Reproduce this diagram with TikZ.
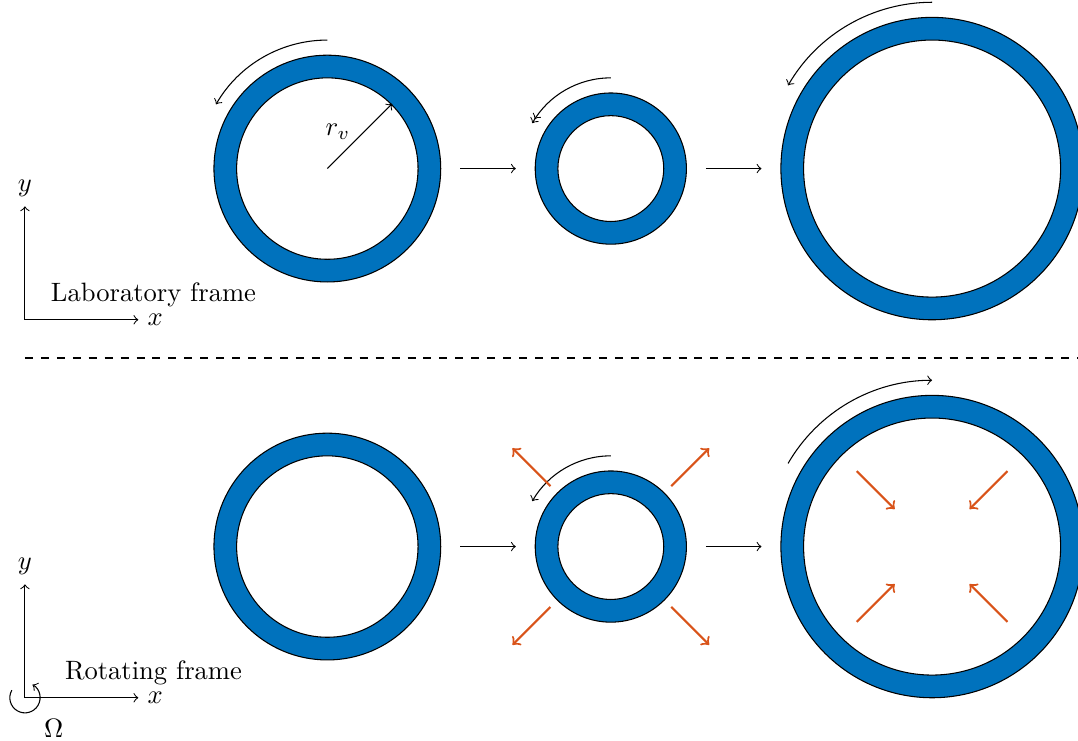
\documentclass[tikz,border=0pt]{standalone}
\usepackage{amsmath}
\usepackage{tikz}
\usetikzlibrary{positioning, arrows}
\definecolor{ringblue}{HTML}{0072BD}
\definecolor{flowred}{HTML}{D95319}
\tikzstyle{ring} = [circle, draw, fill=ringblue, inner sep=0pt]
\tikzstyle{hole} = [circle, draw, fill=white, inner sep=0pt]
\tikzstyle{arrow} = [->]
\tikzstyle{flow} = [->, thick, draw=flowred]

\begin{document}
\begin{tikzpicture}
    \useasboundingbox (-0.33,-5.56) rectangle (13.93,4.23);
    % laboratory frame
    \coordinate (labO) at (0,0);
    \coordinate (labX) at (1.5,0);
    \coordinate (labY) at (0,1.5);
    \draw [arrow] (labO) -- (labX) node[right] {$x$};
    \draw [arrow] (labO) -- (labY) node[above] {$y$};
    \node (labtext) at (1.7,0.33) {Laboratory frame};

    \node (lab1) [ring, minimum size=3cm] at (4,2) {};
    \node (lab1in) [hole, minimum size=2.4cm] at (lab1) {};
    \node (lab2) [ring, minimum size=2cm] at (7.75,2) {};
    \node (lab2in) [hole, minimum size=1.4cm] at (lab2) {};
    \node (lab3) [ring, minimum size=4cm] at (12,2) {};
    \node (lab3in) [hole, minimum size=3.4cm] at (lab3) {};

    \draw [arrow] (lab1.center) -- (lab1in.45) node[midway, left, yshift=0.06cm] {$r_v$};
    \draw [arrow] ([xshift=0.25cm]lab1.east) -- ([xshift=-0.25cm]lab2.west);
    \draw [arrow] ([xshift=0.25cm]lab2.east) -- ([xshift=-0.25cm]lab3.west);
    \draw [arrow] (lab1) ++(90:1.7) arc (90:150:1.7);
    \draw [->>] (lab2) ++(90:1.2) arc (90:150:1.2);
    \draw [arrow] (lab3) ++(90:2.2) arc (90:150:2.2);

    \coordinate (sepL) at (0,-0.5);
    \coordinate (sepR) at (14,-0.5);
    \draw [thick, dashed] (sepL) -- (sepR);

    % rotating frame
    \coordinate (rotO) at (0,-5);
    \coordinate (rotX) at (1.5,-5);
    \coordinate (rotY) at (0,-3.5);
    \draw [arrow] (rotO) -- (rotX) node[right] {$x$};
    \draw [arrow] (rotO) -- (rotY) node[above] {$y$};
    \node (rottext) at (1.7,-4.67) {Rotating frame};
    \draw [arrow] (rotO) ++(150:0.2) arc (150:420:0.2);
    \node (omega) at (0.38,-5.4) {$\Omega$};

    \node (rot1) [ring, minimum size=3cm] at (4,-3) {};
    \node (rot1in) [hole, minimum size=2.4cm] at (rot1) {};
    \node (rot2) [ring, minimum size=2cm] at (7.75,-3) {};
    \node (rot2in) [hole, minimum size=1.4cm] at (rot2) {};
    \node (rot3) [ring, minimum size=4cm] at (12,-3) {};
    \node (rot3in) [hole, minimum size=3.4cm] at (rot3) {};

    \draw [arrow] ([xshift=0.25cm]rot1.east) -- ([xshift=-0.25cm]rot2.west);
    \draw [arrow] ([xshift=0.25cm]rot2.east) -- ([xshift=-0.25cm]rot3.west);
    \draw [arrow] (rot2) ++(90:1.2) arc (90:150:1.2);
    \draw [arrow] (rot3) ++(150:2.2) arc (150:90:2.2);
    \foreach \a in {45,135,225,315} {
        \draw [flow] (rot2) ++(\a:1.13) -- ++(\a:0.71);
        \draw [flow] (rot3) ++(\a:1.41) -- ++(\a:-0.71);
    }
\end{tikzpicture}
\end{document}
